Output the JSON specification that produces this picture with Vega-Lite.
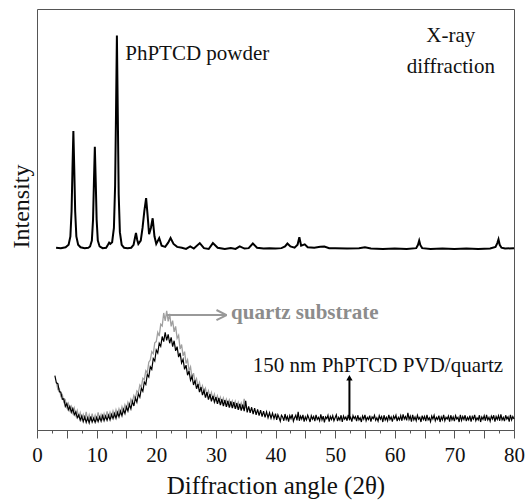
{
  "$schema": "https://vega.github.io/schema/vega-lite/v6.json",
  "width": 477,
  "height": 421,
  "autosize": {"type": "none"},
  "padding": {"left": 37, "top": 9, "right": 14, "bottom": 70},
  "background": "white",
  "config": {
    "view": {"stroke": "#555", "strokeWidth": 1},
    "font": "Liberation Serif",
    "text": {"font": "Liberation Serif"},
    "axis": {"labelFont": "Liberation Serif", "titleFont": "Liberation Serif"}
  },
  "datasets": {
    "powder": [
      {"x":3.2,"y":43.3},{"x":4.0,"y":43.2},{"x":4.8,"y":43.4},{"x":5.3,"y":44.0},{"x":5.6,"y":46.0},{"x":5.8,"y":52},{"x":5.95,"y":62},{"x":6.1,"y":71},{"x":6.25,"y":62},{"x":6.4,"y":52},{"x":6.6,"y":46},{"x":6.9,"y":44},{"x":7.3,"y":43.4},{"x":8.0,"y":43.2},{"x":8.6,"y":43.3},{"x":8.9,"y":43.6},{"x":9.2,"y":45},{"x":9.4,"y":50},{"x":9.55,"y":59},{"x":9.7,"y":67.3},{"x":9.85,"y":59},{"x":10.0,"y":50},{"x":10.2,"y":45},{"x":10.5,"y":43.6},{"x":11.0,"y":43.2},{"x":11.6,"y":43.3},{"x":11.9,"y":44.0},{"x":12.1,"y":44.5},{"x":12.3,"y":44.2},{"x":12.6,"y":44.6},{"x":12.9,"y":48},{"x":13.1,"y":58},{"x":13.25,"y":75},{"x":13.4,"y":93.7},{"x":13.55,"y":75},{"x":13.7,"y":56},{"x":13.9,"y":47},{"x":14.2,"y":44},{"x":14.6,"y":43.3},{"x":15.2,"y":43.2},{"x":15.8,"y":43.3},{"x":16.2,"y":44},{"x":16.45,"y":45.8},{"x":16.6,"y":46.8},{"x":16.8,"y":45.2},{"x":17.0,"y":44.2},{"x":17.4,"y":45},{"x":17.7,"y":48},{"x":18.0,"y":52},{"x":18.3,"y":55.1},{"x":18.55,"y":51},{"x":18.8,"y":46.5},{"x":19.1,"y":48},{"x":19.4,"y":50.3},{"x":19.7,"y":46},{"x":20.0,"y":44.2},{"x":20.5,"y":45.6},{"x":20.9,"y":43.8},{"x":21.5,"y":43.5},{"x":22.0,"y":44.5},{"x":22.4,"y":45.6},{"x":22.9,"y":44.2},{"x":23.5,"y":43.5},{"x":24.3,"y":43.3},{"x":25.0,"y":43.0},{"x":25.7,"y":43.6},{"x":26.3,"y":43.1},{"x":27.3,"y":44.4},{"x":28.0,"y":43.2},{"x":28.8,"y":43.0},{"x":29.5,"y":44.4},{"x":30.3,"y":43.3},{"x":31.5,"y":43.0},{"x":32.5,"y":43.2},{"x":33.3,"y":43.0},{"x":34.0,"y":43.6},{"x":34.8,"y":43.1},{"x":35.5,"y":43.2},{"x":36.2,"y":44.3},{"x":36.9,"y":43.3},{"x":38,"y":43.1},{"x":39,"y":43.2},{"x":40,"y":43.1},{"x":41,"y":43.2},{"x":41.6,"y":43.6},{"x":42.0,"y":44.3},{"x":42.5,"y":43.6},{"x":43.2,"y":43.3},{"x":43.7,"y":44},{"x":44.0,"y":45.8},{"x":44.3,"y":43.8},{"x":44.9,"y":44.1},{"x":45.4,"y":43.4},{"x":46.5,"y":43.3},{"x":47.5,"y":43.5},{"x":48.2,"y":43.6},{"x":49,"y":43.2},{"x":50,"y":43.2},{"x":52,"y":43.1},{"x":54,"y":43.2},{"x":55,"y":43.4},{"x":56,"y":43.1},{"x":58,"y":43.0},{"x":60,"y":43.1},{"x":62,"y":43.0},{"x":63.6,"y":43.2},{"x":63.9,"y":44.0},{"x":64.1,"y":45.0},{"x":64.3,"y":43.9},{"x":64.6,"y":43.2},{"x":66,"y":43.0},{"x":68,"y":43.1},{"x":70,"y":43.0},{"x":72,"y":43.1},{"x":74,"y":43.0},{"x":76,"y":43.1},{"x":76.9,"y":43.5},{"x":77.2,"y":44.4},{"x":77.4,"y":45.3},{"x":77.6,"y":44.0},{"x":77.9,"y":43.3},{"x":78.5,"y":43.1},{"x":80,"y":43.2}
    ],
    "quartz": [
      {"x":3.25,"y":11.4},{"x":3.5,"y":9.6},{"x":3.75,"y":9.8},{"x":4.0,"y":8.0},{"x":4.25,"y":8.4},{"x":4.5,"y":6.6},{"x":4.75,"y":7.1},{"x":5.0,"y":5.4},{"x":5.25,"y":6.3},{"x":5.5,"y":4.7},{"x":5.75,"y":5.6},{"x":6.0,"y":4.1},{"x":6.25,"y":5.2},{"x":6.5,"y":3.5},{"x":6.75,"y":4.6},{"x":7.0,"y":2.9},{"x":7.25,"y":4.1},{"x":7.5,"y":2.6},{"x":7.75,"y":3.7},{"x":8.0,"y":2.4},{"x":8.25,"y":4.3},{"x":8.5,"y":2.3},{"x":8.75,"y":3.6},{"x":9.0,"y":2.2},{"x":9.25,"y":3.9},{"x":9.5,"y":2.3},{"x":9.75,"y":3.5},{"x":10.0,"y":2.4},{"x":10.25,"y":4.2},{"x":10.5,"y":2.5},{"x":10.75,"y":3.7},{"x":11.0,"y":2.6},{"x":11.25,"y":3.9},{"x":11.5,"y":2.7},{"x":11.75,"y":4.4},{"x":12.0,"y":2.9},{"x":12.25,"y":4.2},{"x":12.5,"y":3.1},{"x":12.75,"y":4.5},{"x":13.0,"y":3.3},{"x":13.25,"y":4.8},{"x":13.5,"y":3.6},{"x":13.75,"y":5.0},{"x":14.0,"y":3.9},{"x":14.25,"y":5.5},{"x":14.5,"y":4.4},{"x":14.75,"y":6.0},{"x":15.0,"y":5.0},{"x":15.25,"y":6.6},{"x":15.5,"y":5.7},{"x":15.75,"y":7.3},{"x":16.0,"y":6.6},{"x":16.25,"y":8.2},{"x":16.5,"y":7.5},{"x":16.75,"y":9.3},{"x":17.0,"y":8.9},{"x":17.25,"y":10.7},{"x":17.5,"y":10.2},{"x":17.75,"y":12.3},{"x":18.0,"y":12.0},{"x":18.25,"y":14.1},{"x":18.5,"y":13.6},{"x":18.75,"y":16.1},{"x":19.0,"y":16.6},{"x":19.25,"y":18.6},{"x":19.5,"y":18.1},{"x":19.75,"y":20.7},{"x":20.0,"y":21.0},{"x":20.25,"y":23.2},{"x":20.5,"y":22.3},{"x":20.75,"y":25.1},{"x":21.0,"y":24.7},{"x":21.25,"y":27.8},{"x":21.5,"y":25.9},{"x":21.75,"y":28.3},{"x":22.0,"y":25.8},{"x":22.25,"y":27.6},{"x":22.5,"y":24.6},{"x":22.75,"y":26.0},{"x":23.0,"y":23.3},{"x":23.25,"y":24.6},{"x":23.5,"y":21.8},{"x":23.75,"y":22.5},{"x":24.0,"y":19.2},{"x":24.25,"y":20.3},{"x":24.5,"y":17.6},{"x":24.75,"y":18.6},{"x":25.0,"y":15.8},{"x":25.25,"y":16.7},{"x":25.5,"y":14.1},{"x":25.75,"y":15.0},{"x":26.0,"y":12.4},{"x":26.25,"y":13.5},{"x":26.5,"y":11.4},{"x":26.75,"y":12.2},{"x":27.0,"y":10.3},{"x":27.25,"y":11.3},{"x":27.5,"y":9.5},{"x":27.75,"y":10.5},{"x":28.0,"y":8.9},{"x":28.25,"y":9.9},{"x":28.5,"y":8.2},{"x":28.75,"y":9.3},{"x":29.0,"y":7.8},{"x":29.25,"y":8.9},{"x":29.5,"y":7.3},{"x":29.75,"y":8.5},{"x":30.0,"y":7.0},{"x":30.25,"y":8.1},{"x":30.5,"y":6.7},{"x":30.75,"y":7.8},{"x":31.0,"y":6.5},{"x":31.25,"y":7.6},{"x":31.5,"y":6.2},{"x":31.75,"y":7.3},{"x":32.0,"y":6.0},{"x":32.25,"y":7.1},{"x":32.5,"y":5.8},{"x":32.75,"y":6.9},{"x":33.0,"y":5.7},{"x":33.25,"y":6.8},{"x":33.5,"y":5.5},{"x":33.75,"y":6.6},{"x":34.0,"y":5.3},{"x":34.25,"y":6.4},{"x":34.5,"y":5.1},{"x":34.75,"y":7.4},{"x":35.0,"y":5.2}
    ],
    "film": [
      {"x":3.0,"y":12.9},{"x":3.25,"y":11.2},{"x":3.5,"y":11.0},{"x":3.75,"y":9.1},{"x":4.0,"y":9.0},{"x":4.25,"y":7.3},{"x":4.5,"y":7.4},{"x":4.75,"y":5.6},{"x":5.0,"y":6.3},{"x":5.25,"y":4.8},{"x":5.5,"y":5.6},{"x":5.75,"y":4.2},{"x":6.0,"y":5.1},{"x":6.25,"y":3.6},{"x":6.5,"y":4.3},{"x":6.75,"y":2.9},{"x":7.0,"y":3.6},{"x":7.25,"y":2.3},{"x":7.5,"y":3.3},{"x":7.75,"y":2.0},{"x":8.0,"y":3.1},{"x":8.25,"y":1.8},{"x":8.5,"y":2.9},{"x":8.75,"y":1.7},{"x":9.0,"y":3.2},{"x":9.25,"y":1.9},{"x":9.5,"y":2.8},{"x":9.75,"y":1.8},{"x":10.0,"y":3.0},{"x":10.25,"y":2.0},{"x":10.5,"y":3.1},{"x":10.75,"y":2.1},{"x":11.0,"y":3.4},{"x":11.25,"y":2.2},{"x":11.5,"y":3.3},{"x":11.75,"y":2.3},{"x":12.0,"y":3.5},{"x":12.25,"y":2.4},{"x":12.5,"y":3.7},{"x":12.75,"y":2.7},{"x":13.0,"y":3.9},{"x":13.25,"y":2.8},{"x":13.5,"y":4.2},{"x":13.75,"y":3.1},{"x":14.0,"y":4.5},{"x":14.25,"y":3.4},{"x":14.5,"y":4.9},{"x":14.75,"y":3.9},{"x":15.0,"y":5.5},{"x":15.25,"y":4.5},{"x":15.5,"y":6.1},{"x":15.75,"y":5.0},{"x":16.0,"y":6.8},{"x":16.25,"y":5.7},{"x":16.5,"y":7.6},{"x":16.75,"y":6.6},{"x":17.0,"y":8.6},{"x":17.25,"y":7.8},{"x":17.5,"y":9.9},{"x":17.75,"y":9.2},{"x":18.0,"y":11.4},{"x":18.25,"y":10.8},{"x":18.5,"y":13.2},{"x":18.75,"y":12.6},{"x":19.0,"y":15.0},{"x":19.25,"y":14.4},{"x":19.5,"y":17.0},{"x":19.75,"y":16.4},{"x":20.0,"y":19.0},{"x":20.25,"y":18.3},{"x":20.5,"y":20.6},{"x":20.75,"y":19.9},{"x":21.0,"y":22.2},{"x":21.25,"y":21.0},{"x":21.5,"y":23.2},{"x":21.75,"y":21.3},{"x":22.0,"y":22.7},{"x":22.25,"y":20.6},{"x":22.5,"y":22.0},{"x":22.75,"y":19.8},{"x":23.0,"y":21.2},{"x":23.25,"y":18.8},{"x":23.5,"y":19.8},{"x":23.75,"y":17.3},{"x":24.0,"y":18.3},{"x":24.25,"y":15.9},{"x":24.5,"y":16.8},{"x":24.75,"y":14.4},{"x":25.0,"y":15.4},{"x":25.25,"y":13.0},{"x":25.5,"y":14.0},{"x":25.75,"y":11.8},{"x":26.0,"y":12.7},{"x":26.25,"y":10.7},{"x":26.5,"y":11.8},{"x":26.75,"y":9.8},{"x":27.0,"y":10.9},{"x":27.25,"y":9.0},{"x":27.5,"y":10.2},{"x":27.75,"y":8.3},{"x":28.0,"y":9.4},{"x":28.25,"y":7.7},{"x":28.5,"y":9.0},{"x":28.75,"y":7.2},{"x":29.0,"y":8.5},{"x":29.25,"y":6.8},{"x":29.5,"y":8.1},{"x":29.75,"y":6.6},{"x":30.0,"y":7.8},{"x":30.25,"y":6.2},{"x":30.5,"y":7.6},{"x":30.75,"y":5.9},{"x":31.0,"y":7.3},{"x":31.25,"y":5.7},{"x":31.5,"y":7.1},{"x":31.75,"y":5.5},{"x":32.0,"y":6.9},{"x":32.25,"y":5.3},{"x":32.5,"y":6.8},{"x":32.75,"y":5.2},{"x":33.0,"y":6.6},{"x":33.25,"y":5.0},{"x":33.5,"y":6.4},{"x":33.75,"y":4.8},{"x":34.0,"y":6.2},{"x":34.25,"y":4.6},{"x":34.5,"y":6.0},{"x":34.75,"y":4.5},{"x":35.0,"y":6.9},{"x":35.25,"y":4.2},{"x":35.5,"y":5.6},{"x":35.75,"y":4.1},{"x":36.0,"y":5.4},{"x":36.25,"y":3.8},{"x":36.5,"y":5.2},{"x":36.75,"y":3.6},{"x":37.0,"y":4.9},{"x":37.25,"y":3.4},{"x":37.5,"y":4.7},{"x":37.75,"y":3.2},{"x":38.0,"y":4.5},{"x":38.25,"y":3.0},{"x":38.5,"y":4.3},{"x":38.75,"y":2.9},{"x":39.0,"y":4.1},{"x":39.25,"y":2.8},{"x":39.5,"y":4.0},{"x":39.75,"y":2.7},{"x":40.0,"y":3.9},
      {"x":40.2,"y":2.4},{"x":40.4,"y":3.6},{"x":40.6,"y":2.9},{"x":40.8,"y":2.1},{"x":41.0,"y":3.5},{"x":41.2,"y":3.1},{"x":41.4,"y":2.2},{"x":41.6,"y":3.8},{"x":41.8,"y":2.5},{"x":42.0,"y":3.2},{"x":42.2,"y":2.0},{"x":42.4,"y":3.4},{"x":42.6,"y":2.7},{"x":42.8,"y":3.7},{"x":43.0,"y":2.1},{"x":43.2,"y":2.9},{"x":43.4,"y":3.5},{"x":43.6,"y":2.3},{"x":43.8,"y":4.3},{"x":44.0,"y":2.2},{"x":44.2,"y":3.3},{"x":44.4,"y":2.6},{"x":44.6,"y":3.6},{"x":44.8,"y":2.0},{"x":45.0,"y":3.1},{"x":45.2,"y":2.4},{"x":45.4,"y":3.5},{"x":45.6,"y":2.8},{"x":45.8,"y":1.9},{"x":46.0,"y":3.4},{"x":46.2,"y":2.6},{"x":46.4,"y":3.2},{"x":46.6,"y":2.1},{"x":46.8,"y":3.6},{"x":47.0,"y":2.5},{"x":47.2,"y":3.0},{"x":47.4,"y":2.2},{"x":47.6,"y":3.7},{"x":47.8,"y":2.4},{"x":48.0,"y":3.3},{"x":48.2,"y":1.8},{"x":48.4,"y":3.1},{"x":48.6,"y":2.7},{"x":48.8,"y":3.5},{"x":49.0,"y":2.0},{"x":49.2,"y":3.2},{"x":49.4,"y":2.5},{"x":49.6,"y":3.4},{"x":49.8,"y":2.2},{"x":50.0,"y":2.9},{"x":50.2,"y":3.6},{"x":50.4,"y":2.1},{"x":50.6,"y":3.0},{"x":50.8,"y":2.4},{"x":51.0,"y":3.5},{"x":51.2,"y":1.9},{"x":51.4,"y":3.3},{"x":51.6,"y":2.6},{"x":51.8,"y":3.1},{"x":52.0,"y":2.2},{"x":52.2,"y":3.6},{"x":52.4,"y":2.5},{"x":52.6,"y":3.0},{"x":52.8,"y":2.0},{"x":53.0,"y":3.4},{"x":53.2,"y":2.7},{"x":53.4,"y":3.2},{"x":53.6,"y":2.1},{"x":53.8,"y":3.5},{"x":54.0,"y":2.4},{"x":54.2,"y":2.9},{"x":54.4,"y":1.9},{"x":54.6,"y":3.3},{"x":54.8,"y":2.6},{"x":55.0,"y":3.6},{"x":55.2,"y":2.2},{"x":55.4,"y":3.0},{"x":55.6,"y":2.5},{"x":55.8,"y":3.4},{"x":56.0,"y":2.0},{"x":56.2,"y":3.1},{"x":56.4,"y":2.7},{"x":56.6,"y":3.5},{"x":56.8,"y":2.3},{"x":57.0,"y":2.9},{"x":57.2,"y":2.1},{"x":57.4,"y":3.4},{"x":57.6,"y":2.6},{"x":57.8,"y":3.2},{"x":58.0,"y":1.9},{"x":58.2,"y":3.5},{"x":58.4,"y":2.4},{"x":58.6,"y":3.0},{"x":58.8,"y":2.2},{"x":59.0,"y":3.6},{"x":59.2,"y":2.5},{"x":59.4,"y":3.1},{"x":59.6,"y":2.0},{"x":59.8,"y":3.3},{"x":60.0,"y":2.7},{"x":60.2,"y":3.5},{"x":60.4,"y":2.1},{"x":60.6,"y":3.0},{"x":60.8,"y":2.4},{"x":61.0,"y":3.4},{"x":61.2,"y":2.2},{"x":61.4,"y":3.7},{"x":61.6,"y":2.6},{"x":61.8,"y":3.2},{"x":62.0,"y":2.3},{"x":62.2,"y":4.1},{"x":62.4,"y":2.5},{"x":62.6,"y":3.3},{"x":62.8,"y":2.0},{"x":63.0,"y":3.6},{"x":63.2,"y":2.4},{"x":63.4,"y":3.1},{"x":63.6,"y":2.2},{"x":63.8,"y":3.5},{"x":64.0,"y":2.6},{"x":64.2,"y":3.0},{"x":64.4,"y":1.9},{"x":64.6,"y":3.4},{"x":64.8,"y":2.5},{"x":65.0,"y":3.2},{"x":65.2,"y":2.1},{"x":65.4,"y":3.6},{"x":65.6,"y":2.4},{"x":65.8,"y":2.9},{"x":66.0,"y":2.0},{"x":66.2,"y":3.3},{"x":66.4,"y":2.6},{"x":66.6,"y":3.5},{"x":66.8,"y":2.2},{"x":67.0,"y":3.0},{"x":67.2,"y":2.5},{"x":67.4,"y":3.4},{"x":67.6,"y":1.9},{"x":67.8,"y":3.1},{"x":68.0,"y":2.4},{"x":68.2,"y":3.6},{"x":68.4,"y":2.2},{"x":68.6,"y":3.0},{"x":68.8,"y":2.6},{"x":69.0,"y":3.3},{"x":69.2,"y":2.0},{"x":69.4,"y":3.5},{"x":69.6,"y":2.4},{"x":69.8,"y":3.1},{"x":70.0,"y":2.1},{"x":70.2,"y":3.4},{"x":70.4,"y":2.6},{"x":70.6,"y":3.0},{"x":70.8,"y":1.9},{"x":71.0,"y":3.6},{"x":71.2,"y":2.3},{"x":71.4,"y":3.2},{"x":71.6,"y":2.5},{"x":71.8,"y":3.5},{"x":72.0,"y":2.1},{"x":72.2,"y":3.0},{"x":72.4,"y":2.4},{"x":72.6,"y":3.4},{"x":72.8,"y":2.0},{"x":73.0,"y":3.2},{"x":73.2,"y":2.6},{"x":73.4,"y":3.6},{"x":73.6,"y":2.2},{"x":73.8,"y":2.9},{"x":74.0,"y":2.4},{"x":74.2,"y":3.5},{"x":74.4,"y":1.9},{"x":74.6,"y":3.1},{"x":74.8,"y":2.5},{"x":75.0,"y":3.4},{"x":75.2,"y":2.2},{"x":75.4,"y":3.6},{"x":75.6,"y":2.4},{"x":75.8,"y":3.0},{"x":76.0,"y":2.1},{"x":76.2,"y":3.3},{"x":76.4,"y":2.6},{"x":76.6,"y":3.5},{"x":76.8,"y":2.0},{"x":77.0,"y":3.2},{"x":77.2,"y":2.5},{"x":77.4,"y":3.4},{"x":77.6,"y":2.2},{"x":77.8,"y":3.7},{"x":78.0,"y":2.4},{"x":78.2,"y":3.0},{"x":78.4,"y":2.1},{"x":78.6,"y":3.5},{"x":78.8,"y":2.6},{"x":79.0,"y":3.1},{"x":79.2,"y":2.0},{"x":79.4,"y":3.6},{"x":79.6,"y":2.4},{"x":79.8,"y":3.2},{"x":80.0,"y":2.6}
    ]
  },
  "encoding": {
    "x": {
      "field": "x", "type": "quantitative",
      "scale": {"domain": [0, 80], "nice": false, "zero": false},
      "axis": {
        "values": [0,2.5,5,7.5,10,12.5,15,17.5,20,22.5,25,27.5,30,32.5,35,37.5,40,42.5,45,47.5,50,52.5,55,57.5,60,62.5,65,67.5,70,72.5,75,77.5,80],
        "labelExpr": "datum.value % 10 === 0 ? datum.label : ''",
        "tickSize": {"condition": {"test": "datum.value % 5 === 0", "value": 8}, "value": 3},
        "tickColor": "#555",
        "domainColor": "#555",
        "grid": false,
        "labelFont": "Liberation Serif",
        "labelFontSize": 21,
        "labelColor": "#111",
        "labelPadding": 6,
        "labelOverlap": false,
        "labelFlush": false,
        "title": "Diffraction angle (2θ)",
        "titleFont": "Liberation Serif",
        "titleFontSize": 25,
        "titleFontWeight": "normal",
        "titleColor": "#111",
        "titleY": 63,
        "titleBaseline": "alphabetic"
      }
    },
    "y": {
      "field": "y", "type": "quantitative",
      "scale": {"domain": [0, 100], "nice": false, "zero": false},
      "axis": {
        "title": "Intensity",
        "ticks": false, "labels": false, "domain": false, "grid": false,
        "titleFont": "Liberation Serif",
        "titleFontSize": 24,
        "titleFontWeight": "normal",
        "titleColor": "#111",
        "titleAngle": -90,
        "titleAlign": "center",
        "titleBaseline": "alphabetic",
        "titleX": -9,
        "titleY": 197
      }
    }
  },
  "layer": [
    {
      "data": {"name": "quartz"},
      "mark": {"type": "line", "color": "#a0a0a0", "strokeWidth": 1.3},
      "encoding": {}
    },
    {
      "data": {"name": "film"},
      "mark": {"type": "line", "color": "#000", "strokeWidth": 1.2},
      "encoding": {}
    },
    {
      "data": {"name": "powder"},
      "mark": {"type": "line", "color": "#000", "strokeWidth": 2},
      "encoding": {}
    },
    {
      "data": {"values": [
        {"x": 21.8, "y": 27.3, "x2": 31.8, "y2": 27.3},
        {"x": 30.1, "y": 28.5, "x2": 31.8, "y2": 27.3},
        {"x": 30.1, "y": 26.1, "x2": 31.8, "y2": 27.3}
      ]},
      "mark": {"type": "rule", "color": "#999", "strokeWidth": 2},
      "encoding": {"x2": {"field": "x2"}, "y2": {"field": "y2"}}
    },
    {
      "data": {"values": [{"x": 52.4, "y": 2.8, "y2": 12.3}]},
      "mark": {"type": "rule", "color": "#000", "strokeWidth": 2},
      "encoding": {"y2": {"field": "y2"}}
    },
    {
      "data": {"values": [{"x": 52.4, "y": 12.4}]},
      "mark": {"type": "point", "shape": "triangle-up", "filled": true, "color": "#000", "size": 40, "opacity": 1},
      "encoding": {}
    },
    {
      "data": {"values": [{"x": 14.8, "y": 87.9, "t": "PhPTCD powder"}, {"x": 36.2, "y": 13.8, "t": "150 nm PhPTCD PVD/quartz"}]},
      "mark": {"type": "text", "font": "Liberation Serif", "align": "left", "baseline": "alphabetic", "fontSize": 21, "color": "#111"},
      "encoding": {"text": {"field": "t"}}
    },
    {
      "data": {"values": [{"x": 69.4, "y": 92.2, "t": "X-ray"}, {"x": 69.4, "y": 84.9, "t": "diffraction"}]},
      "mark": {"type": "text", "font": "Liberation Serif", "align": "center", "baseline": "alphabetic", "fontSize": 21, "color": "#111"},
      "encoding": {"text": {"field": "t"}}
    },
    {
      "data": {"values": [{"x": 32.55, "y": 26.3, "t": "quartz substrate"}]},
      "mark": {"type": "text", "font": "Liberation Serif", "align": "left", "baseline": "alphabetic", "fontSize": 21, "fontWeight": "bold", "color": "#8c8c8c"},
      "encoding": {"text": {"field": "t"}}
    }
  ]
}
